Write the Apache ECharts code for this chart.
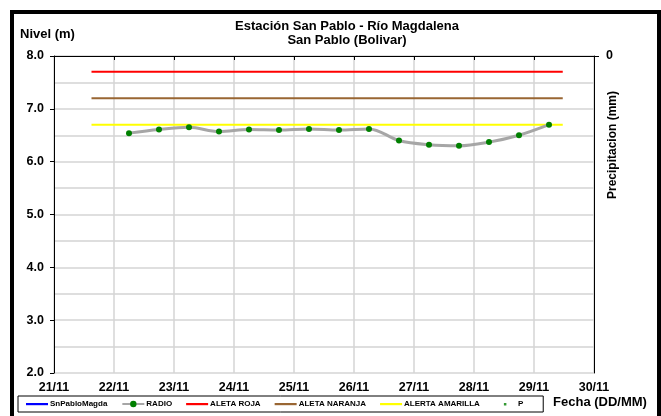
<!DOCTYPE html>
<html>
<head>
<meta charset="utf-8">
<script src="https://cdn.jsdelivr.net/npm/echarts@6/dist/echarts.min.js"></script>
<style>
html,body{margin:0;padding:0;background:#fff;}
#c{width:661px;height:416px;}
</style>
</head>
<body>
<div id="c"></div>
<script>
// ---- data ----
var dayLabels = ['21/11','22/11','23/11','24/11','25/11','26/11','27/11','28/11','29/11','30/11'];
var obsTimes = ['22/11 06:00','22/11 18:00','23/11 06:00','23/11 18:00','24/11 06:00','24/11 18:00',
                '25/11 06:00','25/11 18:00','26/11 06:00','26/11 18:00','27/11 06:00','27/11 18:00',
                '28/11 06:00','28/11 18:00','29/11 06:00'];
var radioLevels = [6.54, 6.61, 6.65, 6.57, 6.61, 6.60, 6.62, 6.60, 6.62, 6.40, 6.32, 6.30, 6.37, 6.50, 6.70];
var alertSpan = ['21/11 15:00','29/11 11:30'];
var alertaRoja = 7.7;
var alertaNaranja = 7.2;
var alertaAmarilla = 6.7;
var yTickLabels = ['2.0','3.0','4.0','5.0','6.0','7.0','8.0'];

// convert "dd/mm hh:mm" to days since 21/11 00:00
function toDay(s){
  var p = s.split(' '), d = p[0].split('/'), t = p[1].split(':');
  return (parseInt(d[0],10) - 21) + (parseInt(t[0],10) + parseInt(t[1],10)/60)/24;
}
var radioData = obsTimes.map(function(t,i){ return [toDay(t), radioLevels[i]]; });
function alertLine(v){ return [[toDay(alertSpan[0]), v],[toDay(alertSpan[1]), v]]; }

var FF = '"Liberation Sans", Arial, sans-serif';
var lineIcon = 'path://M0,0h0M0,8h0M0,3h22v2.2h-22z';
var dotIcon = 'path://M0,0h0M22,0h0M0,8h0M22,8h0M10,3h2.5v2.5h-2.5z';
var chart = echarts.init(document.getElementById('c'));
chart.setOption({
  animation:false,
  backgroundColor:'#fff',
  grid:{left:54, right:67, top:56, bottom:43, containLabel:false},
  xAxis:{
    type:'value', min:0, max:9, interval:1,
    axisLine:{show:true, lineStyle:{color:'#000', width:1}},
    axisTick:{show:true, length:4, lineStyle:{color:'#000'}},
    axisLabel:{margin:8, color:'#000', fontFamily:FF, fontWeight:'bold', fontSize:12.5,
      formatter:function(v){ return dayLabels[Math.round(v)] || ''; }},
    splitLine:{show:true, lineStyle:{color:'#d4d4d4', width:1.5}}
  },
  yAxis:[{
    type:'value', min:2, max:8, interval:1,
    axisLine:{show:true, lineStyle:{color:'#000', width:1}},
    axisTick:{show:true, length:4, lineStyle:{color:'#000'}},
    axisLabel:{margin:10, color:'#000', fontFamily:FF, fontWeight:'bold', fontSize:12.5,
      formatter:function(v){ return yTickLabels[Math.round(v-2)] || ''; }},
    splitLine:{show:true, lineStyle:{color:'#d4d4d4', width:1.5}},
    minorTick:{show:false, splitNumber:2},
    minorSplitLine:{show:true, lineStyle:{color:'#d4d4d4', width:1.5}}
  },{
    type:'value', position:'right', inverse:true, min:0, max:1, interval:1,
    axisLine:{show:true, onZero:false, lineStyle:{color:'#000', width:1}},
    axisTick:{show:true, length:5, customValues:[0], lineStyle:{color:'#000'}},
    axisLabel:{margin:12, color:'#000', fontFamily:FF, fontWeight:'bold', fontSize:12.5, customValues:[0],
      formatter:function(v){ return v===0 ? '0' : ''; }},
    splitLine:{show:false}
  }],
  legend:{
    left:18, top:396, orient:'horizontal',
    borderColor:'#000', borderWidth:1, padding:[4,20,4,8],
    itemGap:14, itemWidth:22, itemHeight:8,
    textStyle:{fontFamily:FF, fontWeight:'bold', fontSize:8, color:'#000', padding:[0,0,0,-3]},
    data:[
      {name:'SnPabloMagda', icon:lineIcon, itemStyle:{color:'#0000ff', borderWidth:0}},
      {name:'RADIO'},
      {name:'ALETA ROJA', icon:lineIcon, itemStyle:{color:'#ff0000', borderWidth:0}},
      {name:'ALETA NARANJA', icon:lineIcon, itemStyle:{color:'#996633', borderWidth:0}},
      {name:'ALERTA AMARILLA', icon:lineIcon, itemStyle:{color:'#ffff00', borderWidth:0}},
      {name:'P', icon:dotIcon, itemStyle:{color:'#008000', borderWidth:0}}
    ]
  },
  graphic:[
    {type:'rect', silent:true, z:100, shape:{x:12, y:12, width:647, height:430},
      style:{fill:'none', stroke:'#000', lineWidth:4}},
    {type:'text', silent:true, z:100,
      style:{x:347, y:19, text:'Estación San Pablo - Río Magdalena\nSan Pablo (Bolivar)', align:'center',
        font:'bold 13px '+FF, lineHeight:14, fill:'#000'}},
    {type:'text', silent:true, z:100,
      style:{x:20, y:28, text:'Nivel (m)', font:'bold 13px '+FF, fill:'#000'}},
    {type:'text', silent:true, z:100,
      style:{x:600, y:396, text:'Fecha (DD/MM)', align:'center', font:'bold 13px '+FF, fill:'#000'}},
    {type:'text', silent:true, z:100, x:613, y:145, rotation:Math.PI/2,
      style:{x:0, y:0, text:'Precipitacion (mm)', align:'center', verticalAlign:'middle', font:'bold 12px '+FF, fill:'#000'}}
  ],
  series:[
    {name:'SnPabloMagda', type:'line', data:[], symbol:'none', color:'#0000ff', lineStyle:{width:2, color:'#0000ff'}},
    {name:'RADIO', type:'line', data:radioData, smooth:0.35, symbol:'circle', symbolSize:6,
      color:'#a6a6a6',
      lineStyle:{color:'#a6a6a6', width:3},
      itemStyle:{color:'#008000', borderWidth:0}, z:5},
    {name:'ALETA ROJA', type:'line', data:alertLine(alertaRoja), symbol:'none', color:'#ff0000', lineStyle:{width:2, color:'#ff0000'}},
    {name:'ALETA NARANJA', type:'line', data:alertLine(alertaNaranja), symbol:'none', color:'#996633', lineStyle:{width:2, color:'#996633'}},
    {name:'ALERTA AMARILLA', type:'line', data:alertLine(alertaAmarilla), symbol:'none', color:'#ffff00', lineStyle:{width:2, color:'#ffff00'}},
    {name:'P', type:'scatter', yAxisIndex:1, data:[], symbolSize:3, color:'#008000', itemStyle:{color:'#008000'}}
  ]
});
</script>
</body>
</html>
